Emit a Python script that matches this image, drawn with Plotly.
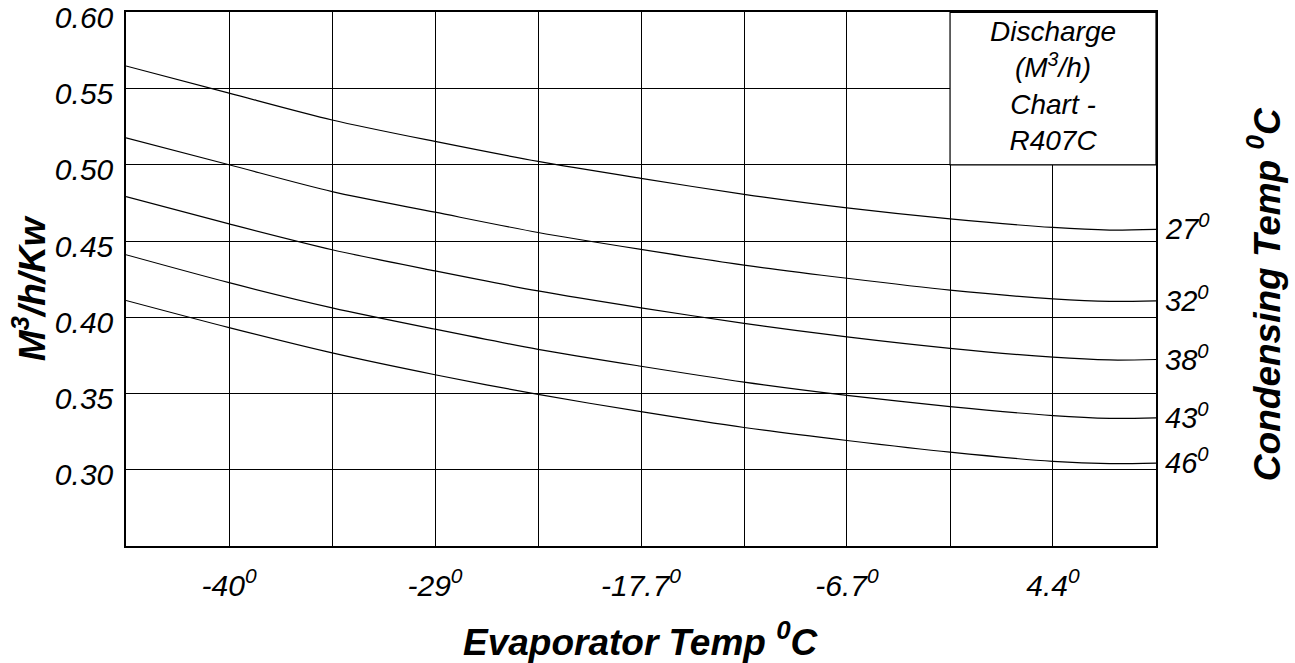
import plotly.graph_objects as go

# Evaporator temperature (deg C) at the chart's grid positions (every 10 F)
evap_grid = [-45.56, -40.0, -34.44, -28.89, -23.33, -17.78, -12.22, -6.67, -1.11, 4.44, 10.0]
evap_temp = [-45.56, -40.0, -34.44, -28.89, -23.33, -17.78, -12.22, -6.67, -1.11, 4.44, 7.5, 10.0]

# Discharge (M3/h/Kw) per condensing temperature
cond_27 = [0.5648, 0.5470, 0.5294, 0.5153, 0.5022, 0.4911, 0.4806, 0.4717, 0.4645, 0.4589, 0.4572, 0.4577]
cond_32 = [0.5176, 0.5000, 0.4824, 0.4689, 0.4556, 0.4445, 0.4342, 0.4256, 0.4178, 0.4121, 0.4104, 0.4108]
cond_38 = [0.4791, 0.4612, 0.4443, 0.4304, 0.4173, 0.4062, 0.3960, 0.3871, 0.3796, 0.3738, 0.3720, 0.3723]
cond_43 = [0.4410, 0.4227, 0.4062, 0.3922, 0.3790, 0.3679, 0.3575, 0.3488, 0.3414, 0.3355, 0.3337, 0.3340]
cond_46 = [0.4110, 0.3932, 0.3766, 0.3623, 0.3494, 0.3381, 0.3277, 0.3192, 0.3115, 0.3055, 0.3040, 0.3044]

series = [cond_27, cond_32, cond_38, cond_43, cond_46]
series_labels = ["27<sup>0</sup>", "32<sup>0</sup>", "38<sup>0</sup>", "43<sup>0</sup>", "46<sup>0</sup>"]

x_tickvals = [-40.0, -28.89, -17.78, -6.67, 4.44]
x_ticktext = ["-40<sup>0</sup>", "-29<sup>0</sup>", "-17.7<sup>0</sup>", "-6.7<sup>0</sup>", "4.4<sup>0</sup>"]
y_tickvals = [0.30, 0.35, 0.40, 0.45, 0.50, 0.55, 0.60]
y_ticktext = ["0.30", "0.35", "0.40", "0.45", "0.50", "0.55", "0.60"]

FONT = "Liberation Sans"

fig = go.Figure()
for vals in series:
    fig.add_trace(go.Scatter(
        x=evap_temp, y=vals, mode="lines",
        line=dict(color="black", width=1.2, shape="spline", smoothing=0.8),
        showlegend=False, hoverinfo="skip", cliponaxis=False,
    ))

# Right-hand condensing temperature labels at curve ends
for vals, lab in zip(series, series_labels):
    fig.add_annotation(
        x=evap_temp[-1], y=vals[-1], xref="x", yref="y",
        text=lab, showarrow=False, xanchor="left", yanchor="middle",
        xshift=7, yshift=2,
        font=dict(family=FONT, size=29, color="black", style="italic"),
    )

# Chart title box (top right)
fig.add_shape(type="rect", xref="x", yref="y",
              x0=evap_grid[-3], x1=evap_grid[-1], y0=0.50, y1=0.60,
              fillcolor="white", line=dict(color="black", width=1.2), layer="above")
fig.add_annotation(
    x=(evap_grid[-3] + evap_grid[-1]) / 2, y=0.5515, xref="x", yref="y",
    text="Discharge<br>(M<sup>3</sup>/h)<br>Chart -<br>R407C",
    showarrow=False, xanchor="center", yanchor="middle", align="center",
    font=dict(family=FONT, size=28, color="black", style="italic"),
)

# Axis titles
fig.add_annotation(
    x=0.5, y=-0.176, xref="paper", yref="paper",
    text="<b><i>Evaporator Temp <sup>0</sup>C</i></b>",
    showarrow=False, xanchor="center", yanchor="middle",
    font=dict(family=FONT, size=37, color="black"),
)
fig.add_annotation(
    x=-0.094, y=0.483, xref="paper", yref="paper",
    text="<b><i>M<sup>3</sup>/h/Kw</i></b>", textangle=-90,
    showarrow=False, xanchor="center", yanchor="middle",
    font=dict(family=FONT, size=37, color="black"),
)
fig.add_annotation(
    x=1.106, y=0.472, xref="paper", yref="paper",
    text="<b><i>Condensing Temp <sup>0</sup>C</i></b>", textangle=-90,
    showarrow=False, xanchor="center", yanchor="middle",
    font=dict(family=FONT, size=37, color="black"),
)

fig.update_xaxes(
    range=[-45.56, 10.0], tickmode="array", tickvals=x_tickvals, ticktext=x_ticktext,
    showgrid=True, gridcolor="black", gridwidth=1,
    minor=dict(tickmode="array", tickvals=evap_grid, showgrid=True, gridcolor="black", gridwidth=1),
    showline=True, linecolor="black", linewidth=1.5, mirror=True,
    ticks="", zeroline=False, ticklabelstandoff=12, automargin=False,
    tickfont=dict(family=FONT, size=30, color="black", style="italic"),
)
fig.update_yaxes(
    range=[0.25, 0.6002], tickmode="array", tickvals=y_tickvals, ticktext=y_ticktext,
    showgrid=True, gridcolor="black", gridwidth=1,
    showline=True, linecolor="black", linewidth=1.5, mirror=True,
    ticks="", zeroline=False, ticklabelstandoff=5, ticklabelshift=5,
    ticklabeloverflow="allow", automargin=False,
    tickfont=dict(family=FONT, size=30, color="black", style="italic"),
)

fig.update_layout(
    width=1295, height=663,
    margin=dict(l=126, r=139, t=12, b=117, autoexpand=False),
    paper_bgcolor="white", plot_bgcolor="white",
    showlegend=False,
)

fig.write_html("out.html")
